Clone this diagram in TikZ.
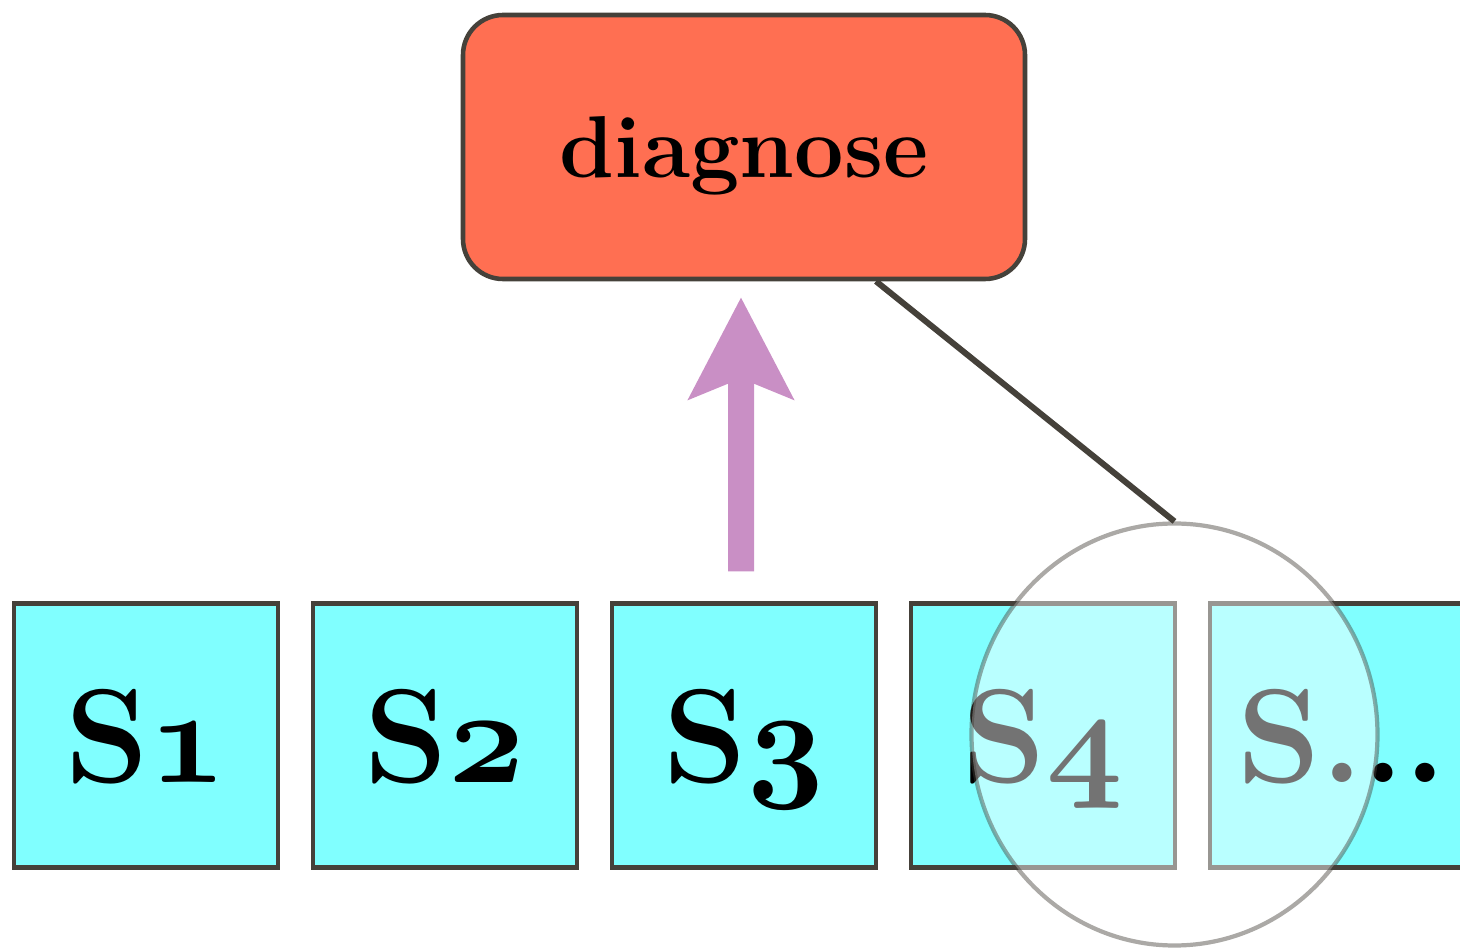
\documentclass[tikz,border=0pt]{standalone}
\usepackage{fix-cm}
\usepackage{tikz}
\usetikzlibrary{
	arrows.meta,
	positioning,
	shapes.geometric
}
\definecolor{boxred}{HTML}{FF6F52}
\definecolor{slotcyan}{HTML}{80FFFF}
\definecolor{arrowpink}{HTML}{C98FC5}
\definecolor{edgegray}{HTML}{45413A}
\newcommand{\osn}[1]{{\usefont{OML}{cmm}{b}{it}#1}}
\newcommand{\slotdots}{...}

\begin{document}
\begin{tikzpicture}[>=Stealth,
	slot/.style={draw=edgegray, line width=1.2pt, fill=slotcyan, rectangle, minimum size=2.64cm, inner sep=0pt, text depth=0pt, font=\fontsize{38}{44}\selectfont\bfseries}
	]
		\clip (0,0) rectangle (14.6,9.49);
		
		\node[draw=edgegray, line width=1.3pt, fill=boxred, rectangle, rounded corners=0.4cm, minimum width=5.62cm, minimum height=2.64cm, text depth=0pt, font=\fontsize{25}{30}\selectfont\bfseries] (diag) at (7.44,8.02) {diagnose};
		
		\foreach \i/\lab in {1/\osn{1},2/\osn{2},3/\osn{3},4/\osn{4},5/\slotdots}
		\node[slot] (s\i) at ({1.46+2.99*(\i-1)},2.135) {S\lab};%slots
		
		% Lens over the last slots
		\node[ellipse, draw=edgegray, fill=white, opacity=0.45, line width=1.2pt, minimum width=4.06cm, minimum height=4.22cm, inner sep=0pt] (lens) at (11.745,2.145) {};
		
		% Arrows
		\draw[arrowpink, line width=0.26cm, -{Stealth[length=1.01cm, width=1.03cm, inset=0.2cm]}, shorten <=0.3cm, shorten >=0.16cm] ([xshift=-0.03cm]s3.north) -- ([xshift=-0.03cm]diag.south);
		\draw[edgegray, line width=0.06cm] ([xshift=1.32cm]diag.south) -- (lens.north);
		
	\end{tikzpicture}
\end{document}
